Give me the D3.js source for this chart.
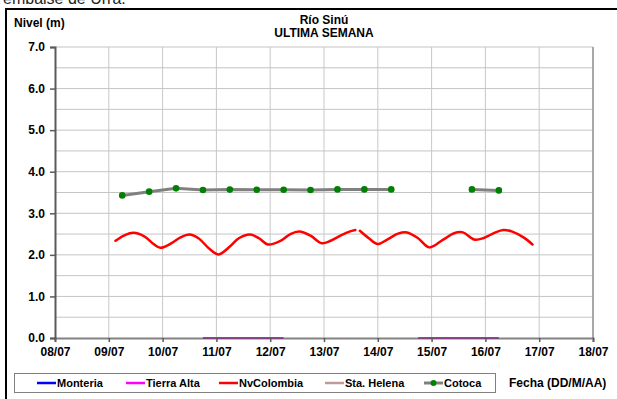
<!DOCTYPE html>
<html>
<head>
<meta charset="utf-8">
<script src="https://cdn.jsdelivr.net/npm/d3@7"></script>
<style>
  html, body { margin: 0; padding: 0; background: #fff; }
  svg { display: block; font-family: "Liberation Sans", Arial, sans-serif; }
</style>
</head>
<body>
<svg id="chart" width="617" height="399"></svg>
<script>
// ---- data ----------------------------------------------------------------
const yTicks = [0, 1, 2, 3, 4, 5, 6, 7];
const dayTicks = ["08/07", "09/07", "10/07", "11/07", "12/07", "13/07", "14/07", "15/07", "16/07", "17/07", "18/07"];

// Cotoca: readings at 06:00 and 18:00 (null = missing reading)
const cotocaTimes = ["09/07 06", "09/07 18", "10/07 06", "10/07 18", "11/07 06", "11/07 18", "12/07 06", "12/07 18", "13/07 06", "13/07 18", "14/07 06", "14/07 18", "15/07 06", "15/07 18", "16/07 06"];
const cotocaValues = [3.43, 3.52, 3.60, 3.56, 3.57, 3.565, 3.565, 3.56, 3.575, 3.575, 3.575, null, null, 3.575, 3.55];

// NvColombia: two continuous stretches of the stage record
const nvTimes1 = ["09/07 03", "09/07 07", "09/07 11", "09/07 16", "09/07 20", "09/07 23", "10/07 04", "10/07 08", "10/07 12", "10/07 16", "10/07 21", "11/07 01", "11/07 06", "11/07 10", "11/07 15", "11/07 19", "11/07 23", "12/07 05", "12/07 09", "12/07 13", "12/07 18", "12/07 23", "13/07 03", "13/07 08", "13/07 12", "13/07 14"];
const nvValues1 = [2.34, 2.47, 2.53, 2.44, 2.26, 2.17, 2.28, 2.42, 2.49, 2.40, 2.14, 2.01, 2.20, 2.40, 2.49, 2.40, 2.25, 2.35, 2.50, 2.56, 2.46, 2.28, 2.34, 2.48, 2.57, 2.60];
const nvTimes2 = ["13/07 16", "13/07 20", "13/07 24", "14/07 04", "14/07 09", "14/07 13", "14/07 18", "14/07 23", "15/07 05", "15/07 10", "15/07 14", "15/07 19", "15/07 23", "16/07 04", "16/07 08", "16/07 12", "16/07 17", "16/07 21"];
const nvValues2 = [2.58, 2.40, 2.26, 2.36, 2.51, 2.54, 2.40, 2.18, 2.36, 2.52, 2.54, 2.37, 2.40, 2.53, 2.60, 2.56, 2.42, 2.25];

// Tierra Alta: zero readings
const taTimes1 = ["10/07 18", "11/07 06", "11/07 18", "12/07 06"];
const taValues1 = [0, 0, 0, 0];
const taTimes2 = ["14/07 18", "15/07 06", "15/07 18", "16/07 06"];
const taValues2 = [0, 0, 0, 0];

const seriesNames = ["Monteria", "Tierra Alta", "NvColombia", "Sta. Helena", "Cotoca"];
const seriesColors = ["#0000ff", "#ff00ff", "#ff0000", "#c09a9a", "#808080"];

// ---- helpers -------------------------------------------------------------
const parseDay = d3.timeParse("%d/%m/%Y");
function parseT(s) {
  const [dm, h] = s.split(" ");
  const d = parseDay(dm + "/2013");
  return d3.timeHour.offset(d, +h);
}
const zip = (ts, vs) => ts.map((t, i) => ({ t: parseT(t), v: vs[i] }));

const svg = d3.select("#chart");
const M = { left: 55, right: 593, top: 47, bottom: 338 };

const x = d3.scaleTime()
  .domain([parseDay(dayTicks[0] + "/2013"), parseDay(dayTicks[dayTicks.length - 1] + "/2013")])
  .range([M.left, M.right]);
const y = d3.scaleLinear().domain([0, 7]).range([M.bottom, M.top]);

// ---- outer frame and header text ----------------------------------------
svg.append("text").attr("x", 3).attr("y", 4)
  .attr("font-size", 16).attr("fill", "#222")
  .text("embalse de Urrá.");

svg.append("rect").attr("x", 6).attr("y", 9).attr("width", 640).attr("height", 420)
  .attr("fill", "none").attr("stroke", "#000").attr("stroke-width", 2);

svg.append("text").attr("x", 14).attr("y", 27)
  .attr("font-size", 12).attr("font-weight", "bold").text("Nivel (m)");

svg.append("text").attr("x", (M.left + M.right) / 2).attr("y", 24)
  .attr("text-anchor", "middle").attr("font-size", 12).attr("font-weight", "bold").text("Río Sinú");
svg.append("text").attr("x", (M.left + M.right) / 2).attr("y", 37)
  .attr("text-anchor", "middle").attr("font-size", 12).attr("font-weight", "bold").text("ULTIMA SEMANA");

// ---- grid ----------------------------------------------------------------
const grid = svg.append("g");
grid.selectAll("line.h").data(d3.range(1, 15).map(i => i * 0.5)).join("line")
  .attr("x1", M.left).attr("x2", M.right)
  .attr("y1", d => y(d)).attr("y2", d => y(d))
  .attr("stroke", "#c4c4c4").attr("stroke-width", 1);
grid.selectAll("line.v").data(dayTicks.slice(1)).join("line")
  .attr("x1", d => x(parseDay(d + "/2013"))).attr("x2", d => x(parseDay(d + "/2013")))
  .attr("y1", M.top).attr("y2", M.bottom)
  .attr("stroke", d => d === "18/07" ? "#a8a8a8" : "#c8c8c8").attr("stroke-width", d => d === "18/07" ? 2 : 1);

// ---- series --------------------------------------------------------------
const line = d3.line().defined(d => d.v != null).x(d => x(d.t)).y(d => y(d.v));
const smooth = d3.line().x(d => x(d.t)).y(d => y(d.v)).curve(d3.curveCatmullRom.alpha(0.5));

// Tierra Alta along the zero line
[zip(taTimes1, taValues1), zip(taTimes2, taValues2)].forEach(seg => {
  svg.append("path").datum(seg).attr("d", line)
    .attr("fill", "none").attr("stroke", seriesColors[1]).attr("stroke-width", 2);
});

// ---- axes ----------------------------------------------------------------
const yAxis = d3.axisLeft(y).tickValues(yTicks).tickSize(5).tickFormat(d3.format(".1f"));
const gy = svg.append("g").attr("transform", `translate(${M.left},0)`).call(yAxis);
gy.select(".domain").attr("stroke", "#5a5a5a").attr("stroke-width", 2);
gy.selectAll(".tick line").attr("stroke", "#5a5a5a").attr("stroke-width", 1.5);
gy.selectAll(".tick text").attr("font-size", 12).attr("font-weight", "bold")
  .attr("font-family", "Liberation Sans, Arial, sans-serif").attr("fill", "#000").attr("x", -10);

const xAxis = d3.axisBottom(x).tickValues(dayTicks.map(d => parseDay(d + "/2013")))
  .tickSize(4).tickFormat(d3.timeFormat("%d/%m"));
const gx = svg.append("g").attr("transform", `translate(0,${M.bottom})`).call(xAxis);
gx.select(".domain").attr("stroke", "#5a5a5a").attr("stroke-width", 2).attr("stroke-opacity", 0.75);
gx.selectAll(".tick line").attr("stroke", "#5a5a5a").attr("stroke-width", 1.5);
gx.selectAll(".tick text").attr("font-size", 12).attr("font-weight", "bold")
  .attr("font-family", "Liberation Sans, Arial, sans-serif").attr("fill", "#000").attr("y", 9);

// NvColombia
[zip(nvTimes1, nvValues1), zip(nvTimes2, nvValues2)].forEach(seg => {
  svg.append("path").datum(seg).attr("d", smooth)
    .attr("fill", "none").attr("stroke", seriesColors[2]).attr("stroke-width", 2.5)
    .attr("stroke-linejoin", "round").attr("stroke-linecap", "round");
});

// Cotoca line + markers
const cot = zip(cotocaTimes, cotocaValues);
svg.append("path").datum(cot).attr("d", line)
  .attr("fill", "none").attr("stroke", seriesColors[4]).attr("stroke-width", 3);
svg.selectAll("circle.cot").data(cot.filter(d => d.v != null)).join("circle")
  .attr("cx", d => x(d.t)).attr("cy", d => y(d.v)).attr("r", 3.3).attr("fill", "#008000");

// ---- legend --------------------------------------------------------------
const lg = svg.append("g");
lg.append("rect").attr("x", 14.5).attr("y", 373.5).attr("width", 481).attr("height", 19)
  .attr("fill", "#fff").attr("stroke", "#808080").attr("stroke-width", 1);
const legX = [37, 126, 219, 325, 424];
seriesNames.forEach((name, i) => {
  const g = lg.append("g").attr("transform", `translate(${legX[i]},383)`);
  g.append("line").attr("x1", 0).attr("x2", 19).attr("y1", 0).attr("y2", 0)
    .attr("stroke", seriesColors[i]).attr("stroke-width", i === 4 ? 3 : 2.5);
  if (i === 4) g.append("circle").attr("cx", 9.5).attr("cy", 0).attr("r", 3).attr("fill", "#008000");
  g.append("text").attr("x", 20).attr("y", 4).attr("font-size", 11).attr("font-weight", "bold").text(name);
});
svg.append("text").attr("x", 509).attr("y", 387).attr("font-size", 12).attr("font-weight", "bold")
  .text("Fecha (DD/M/AA)");
</script>
</body>
</html>
